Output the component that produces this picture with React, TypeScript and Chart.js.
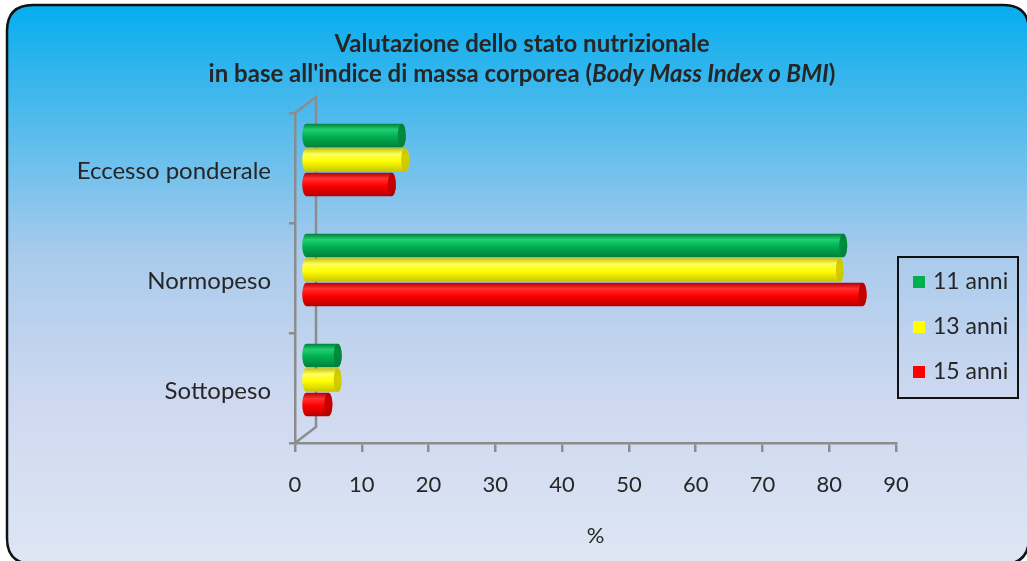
import React, { useEffect, useRef } from "react";
import { Chart, registerables } from "chart.js";

Chart.register(...registerables);

// ---- data ----
const categories = ["Eccesso ponderale", "Normopeso", "Sottopeso"];
const seriesLabels = ["11 anni", "13 anni", "15 anni"];
const values11 = [14.5, 80.6, 4.9];
const values13 = [15.0, 80.1, 4.9];
const values15 = [13.0, 83.5, 3.5];
const xTicks = [0, 10, 20, 30, 40, 50, 60, 70, 80, 90];
const titleLine1 = "Valutazione dello stato nutrizionale";
const titleLine2Start = "in base all'indice di massa corporea (";
const titleLine2Italic = "Body Mass Index o BMI";
const titleLine2End = ")";
const xAxisTitle = "%";

const FONT = "Lato, 'Open Sans', sans-serif";
const TEXT = "#262626";
const AXIS = "#8c8c8c";

const palette = [
  { base: "#00b050", light: "#1fd070", dark: "#00803a", cap: "#008c40", legend: "#00b050" },
  { base: "#ffff00", light: "#ffff60", dark: "#c8c400", cap: "#d4cf00", legend: "#ffff00" },
  { base: "#ff0000", light: "#ff3030", dark: "#b40000", cap: "#c80000", legend: "#ff0000" },
];

const DX = 10;
const DY = -8;

function drawCylinder(ctx: CanvasRenderingContext2D, x0: number, x1: number, yc: number, h: number, col: any) {
  const top = yc - h / 2;
  const bot = yc + h / 2;
  const rx = 4;
  const ry = h / 2;
  const g = ctx.createLinearGradient(0, top, 0, bot);
  g.addColorStop(0, col.dark);
  g.addColorStop(0.25, col.light);
  g.addColorStop(0.55, col.base);
  g.addColorStop(1, col.dark);
  ctx.beginPath();
  ctx.moveTo(x0, top);
  ctx.lineTo(x1, top);
  ctx.ellipse(x1, yc, rx, ry, 0, -Math.PI / 2, Math.PI / 2);
  ctx.lineTo(x0, bot);
  ctx.ellipse(x0, yc, rx, ry, 0, Math.PI / 2, Math.PI * 1.5);
  ctx.closePath();
  ctx.fillStyle = g;
  ctx.fill();
  const gc = ctx.createLinearGradient(0, top, 0, bot);
  gc.addColorStop(0, col.dark);
  gc.addColorStop(0.4, col.cap);
  gc.addColorStop(1, col.dark);
  ctx.beginPath();
  ctx.ellipse(x1, yc, rx, ry, 0, 0, Math.PI * 2);
  ctx.fillStyle = gc;
  ctx.fill();
}

const backgroundPlugin = {
  id: "bgPanel",
  beforeDraw(chart: any) {
    const { ctx, width, height } = chart;
    ctx.save();
    ctx.fillStyle = "#ffffff";
    ctx.fillRect(0, 0, width, height);
    const x = 7, y = 5, w = width + 2 - x, h = height + 3 - y, r = 26;
    const g = ctx.createLinearGradient(0, y, 0, height);
    g.addColorStop(0, "#06adef");
    g.addColorStop(0.2, "#4fbaec");
    g.addColorStop(0.45, "#a9cbec");
    g.addColorStop(0.7, "#cdd8f0");
    g.addColorStop(1, "#dee6f4");
    ctx.beginPath();
    ctx.moveTo(x + r, y);
    ctx.lineTo(x + w - r, y);
    ctx.quadraticCurveTo(x + w, y, x + w, y + r);
    ctx.lineTo(x + w, y + h - r);
    ctx.quadraticCurveTo(x + w, y + h, x + w - r, y + h);
    ctx.lineTo(x + r, y + h);
    ctx.quadraticCurveTo(x, y + h, x, y + h - r);
    ctx.lineTo(x, y + r);
    ctx.quadraticCurveTo(x, y, x + r, y);
    ctx.closePath();
    ctx.fillStyle = g;
    ctx.fill();
    ctx.lineWidth = 2.5;
    ctx.strokeStyle = "#111111";
    ctx.stroke();
    ctx.restore();
  },
};

const framePlugin = {
  id: "frame3d",
  beforeDatasetsDraw(chart: any) {
    const { ctx, chartArea } = chart;
    const { left, top, bottom } = chartArea;
    const dx = 21, dy = -16;
    ctx.save();
    ctx.strokeStyle = AXIS;
    ctx.lineWidth = 2.5;
    ctx.beginPath();
    ctx.moveTo(left, top);
    ctx.lineTo(left + dx, top + dy);
    ctx.lineTo(left + dx, bottom + dy);
    ctx.lineTo(left, bottom);
    ctx.stroke();
    ctx.restore();
  },
};

const cylinderPlugin = {
  id: "cylinders",
  afterDatasetsDraw(chart: any) {
    const { ctx } = chart;
    ctx.save();
    chart.data.datasets.forEach((_: any, di: number) => {
      const meta = chart.getDatasetMeta(di);
      meta.data.forEach((el: any) => {
        const p = el.getProps(["x", "y", "base", "height"], true);
        drawCylinder(ctx, p.base + DX, p.x + DX, p.y + DY, p.height - 1, palette[di]);
      });
    });
    ctx.restore();
  },
};

const titlePlugin = {
  id: "mixedTitle",
  afterDraw(chart: any) {
    const { ctx } = chart;
    const cx = 522;
    ctx.save();
    ctx.fillStyle = TEXT;
    ctx.textBaseline = "middle";
    ctx.textAlign = "left";
    const normal = `bold 24px ${FONT}`;
    const italic = `italic bold 24px ${FONT}`;
    ctx.font = normal;
    const w1 = ctx.measureText(titleLine1).width;
    ctx.fillText(titleLine1, cx - w1 / 2, 44);
    const wa = ctx.measureText(titleLine2Start).width;
    const wc = ctx.measureText(titleLine2End).width;
    ctx.font = italic;
    const wb = ctx.measureText(titleLine2Italic).width;
    let x = cx - (wa + wb + wc) / 2;
    ctx.font = normal;
    ctx.fillText(titleLine2Start, x, 74);
    x += wa;
    ctx.font = italic;
    ctx.fillText(titleLine2Italic, x, 74);
    x += wb;
    ctx.font = normal;
    ctx.fillText(titleLine2End, x, 74);
    ctx.restore();
  },
};

const legendPlugin = {
  id: "boxLegend",
  afterDraw(chart: any) {
    const { ctx } = chart;
    const bx = 898, by = 257, bw = 120, bh = 141;
    ctx.save();
    ctx.lineWidth = 2;
    ctx.strokeStyle = "#111111";
    ctx.strokeRect(bx, by, bw, bh);
    ctx.textBaseline = "middle";
    ctx.textAlign = "left";
    ctx.font = `23px ${FONT}`;
    chart.data.datasets.forEach((ds: any, i: number) => {
      const cy = 282 + i * 45;
      ctx.fillStyle = palette[i].legend;
      ctx.fillRect(913, cy - 6, 12, 12);
      ctx.fillStyle = TEXT;
      ctx.fillText(ds.label, 933, cy);
    });
    ctx.restore();
  },
};

export default function App() {
  const ref = useRef<HTMLCanvasElement | null>(null);
  useEffect(() => {
    if (!ref.current) return;
    const seriesValues = [values11, values13, values15];
    const chart = new Chart(ref.current, {
      type: "bar",
      data: {
        labels: categories,
        datasets: seriesLabels.map((label, i) => ({
          label,
          data: seriesValues[i],
          backgroundColor: "rgba(0,0,0,0)",
          borderWidth: 0,
          barPercentage: 1,
          categoryPercentage: 0.668,
        })),
      },
      options: {
        indexAxis: "y",
        animation: false,
        responsive: false,
        devicePixelRatio: 1,
        layout: { padding: { top: 113, right: 131, left: 0, bottom: 0 } },
        plugins: {
          legend: { display: false },
          title: { display: false },
          tooltip: { enabled: false },
        },
        scales: {
          y: {
            type: "category",
            afterFit: (s: any) => {
              s.width = 295;
            },
            grid: {
              display: true,
              drawOnChartArea: false,
              drawTicks: true,
              tickLength: 6,
              color: AXIS,
              lineWidth: 2.5,
              offset: true,
            },
            border: { display: true, color: AXIS, width: 2.5 },
            ticks: { font: { family: FONT, size: 24 }, color: TEXT, padding: 18, labelOffset: 3 },
          },
          x: {
            type: "linear",
            min: 0,
            max: 90,
            afterFit: (s: any) => {
              s.height = 118;
            },
            afterBuildTicks: (s: any) => {
              s.ticks = xTicks.map((v) => ({ value: v }));
            },
            grid: {
              display: true,
              drawOnChartArea: false,
              drawTicks: true,
              tickLength: 9,
              color: AXIS,
              lineWidth: 2.5,
            },
            border: { display: true, color: AXIS, width: 2.5 },
            ticks: { font: { family: FONT, size: 22 }, color: TEXT, padding: 20, maxRotation: 0 },
            title: {
              display: true,
              text: xAxisTitle,
              font: { family: FONT, size: 22 },
              color: TEXT,
              padding: { top: 0, bottom: 12 },
            },
          },
        },
      },
      plugins: [backgroundPlugin, framePlugin, cylinderPlugin, titlePlugin, legendPlugin],
    } as any);
    return () => chart.destroy();
  }, []);
  return (
    <div style={{ position: "fixed", left: 0, top: 0, width: 1027, height: 561 }}>
      <canvas ref={ref} width={1027} height={561} style={{ display: "block", width: 1027, height: 561 }} />
    </div>
  );
}
